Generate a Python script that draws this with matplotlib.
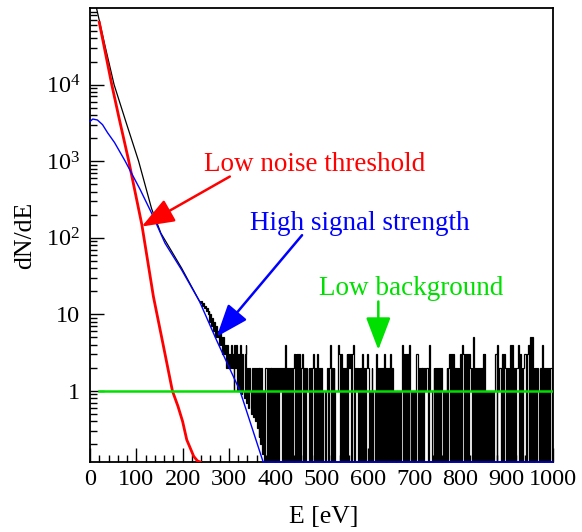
"""dN/dE spectrum with noise, signal and background components (ROOT-like style)."""

import matplotlib

matplotlib.use("Agg")
import matplotlib.pyplot as plt
import numpy as np
from matplotlib.ticker import FixedFormatter, FixedLocator, MultipleLocator, NullFormatter

plt.rcParams["font.family"] = ["Liberation Serif", "DejaVu Serif"]
plt.rcParams["mathtext.fontset"] = "custom"
plt.rcParams["mathtext.rm"] = "Liberation Serif"

# --- data ------------------------------------------------------------------
# smooth (high-statistics) part of the measured spectrum
DATA_E = [14, 33, 52, 78, 105, 133, 153, 198, 236]
DATA_Y = [1.0e5, 3.1e4, 1.0e4, 3.2e3, 1.0e3, 240, 115, 40, 15]

# measured spectrum, 2 eV bins from 236 eV to 380 eV
HIST_START = 236
BIN_WIDTH = 2
HIST_COUNTS_EDGE = [
    15, 14, 15, 13, 14, 12, 13, 11, 12, 10,
    11, 8, 10, 7, 9, 6, 8, 5, 7, 5,
    6, 4, 6, 4, 5, 3, 5, 3, 4, 2,
    4, 2, 3, 2, 4, 2, 3, 1, 4, 2,
    4, 1, 3, 1, 4, 0.9, 3, 1, 0.8, 3,
    4, 0.7, 2, 0.6, 2, 1, 0.5, 2, 0.45, 2,
    0.4, 2, 0.33, 2, 0.25, 2, 0.2, 2, 0.15, 1,
    0.12, 2,
]
# measured spectrum, 2 eV bins from 380 eV to 1000 eV (one digit = one bin)
BG_COUNT_ROWS = [
    "2020202020" "2020212020" "0402020202" "3030303023" "0202112020",
    "2302030202" "2011012024" "0202011143" "0302020303" "2303402120",
    "2020302023" "2010201103" "0202020230" "2020302010" "1010101403",
    "0303041010" "1033020202" "0212204110" "0202020202" "1010120230",
    "3030202020" "3043030303" "2120502020" "2020303010" "1010101330",
    "4122030320" "2020404020" "2240302023" "3034050502" "0202102040" "2022020220",
]

# noise model (red)
NOISE_E = [20, 47, 63, 83, 112, 137, 157, 178, 190, 200, 209, 224, 232, 238]
NOISE_Y = [6.5e4, 1.0e4, 3.6e3, 1.05e3, 148, 17, 4.3, 1.0, 0.63, 0.40, 0.23, 0.14, 0.122, 0.118]

# signal model (blue)
SIGNAL_E = [0, 6, 16, 27, 38, 53, 76, 108, 133, 162, 198, 236, 274, 324, 374, 1000]
SIGNAL_Y = [3.3e3, 3.55e3, 3.45e3, 3.0e3, 2.35e3, 1.75e3, 1.0e3, 430, 210, 85, 38, 15, 4.5, 1.0, 0.118, 0.118]

# flat background model (green)
BACKGROUND_E = [20, 1000]
BACKGROUND_Y = [1.0, 1.0]

Y_RANGE = (0.118, 1.0e5)
Y_MAJOR = [1, 10, 1e2, 1e3, 1e4]
Y_MAJOR_LABELS = ["1", "10", r"$\mathregular{10^{2}}$", r"$\mathregular{10^{3}}$", r"$\mathregular{10^{4}}$"]

RED = "#ff0000"
BLUE = "#0000ff"
GREEN = "#00e000"

tick_fontsize_pt = 17.5
title_fontsize_pt = 18.5
note_fontsize_pt = 19.5


def minor_log_ticks(lo_exp, hi_exp):
    return [m * 10.0 ** e for e in range(lo_exp, hi_exp) for m in range(2, 10)]


def arrow(ax, tail, tip, color):
    ax.annotate(
        "",
        xy=tip,
        xytext=tail,
        arrowprops=dict(
            arrowstyle="-|>,head_length=1.0,head_width=0.38",
            mutation_scale=20,
            color=color,
            lw=1.8,
            shrinkA=0,
            shrinkB=0,
        ),
        zorder=6,
    )


fig = plt.figure(figsize=(5.82, 5.32), dpi=100)
ax = fig.add_axes([90 / 582, 70 / 532, 463 / 582, 454 / 532])
ax.set_yscale("log")

counts = np.array(
    HIST_COUNTS_EDGE + [int(c) for c in "".join(BG_COUNT_ROWS)], dtype=float
)
counts[counts <= 0] = 1e-3  # empty bins drop through the bottom of the frame
edges = HIST_START + BIN_WIDTH * np.arange(len(counts) + 1)

ax.plot(DATA_E, DATA_Y, color="black", lw=0.9, zorder=2)
ax.stairs(counts, edges, color="black", lw=0.9, baseline=None, zorder=2)
ax.plot(NOISE_E, NOISE_Y, color=RED, lw=2.0, zorder=3)
ax.plot(SIGNAL_E, SIGNAL_Y, color=BLUE, lw=1.0, zorder=4, clip_on=False)
ax.plot(BACKGROUND_E, BACKGROUND_Y, color=GREEN, lw=1.8, zorder=5)

ax.set_xlim(0, 1000)
ax.set_ylim(*Y_RANGE)

ax.text(246, 736, "Low noise threshold", color=RED, fontsize=note_fontsize_pt,
        ha="left", va="baseline")
arrow(ax, (302, 630), (111.7, 140), RED)
ax.text(345.6, 124.5, "High signal strength", color=BLUE, fontsize=note_fontsize_pt,
        ha="left", va="baseline")
arrow(ax, (458, 108), (273.6, 5.1), BLUE)
ax.text(495, 18.0, "Low background", color=GREEN, fontsize=note_fontsize_pt,
        ha="left", va="baseline")
arrow(ax, (622.7, 14.7), (622.7, 3.44), GREEN)

ax.xaxis.set_major_locator(MultipleLocator(100))
ax.xaxis.set_minor_locator(MultipleLocator(20))
ax.yaxis.set_major_locator(FixedLocator(Y_MAJOR))
ax.yaxis.set_major_formatter(FixedFormatter(Y_MAJOR_LABELS))
ax.yaxis.set_minor_locator(FixedLocator(minor_log_ticks(-1, 5)))
ax.yaxis.set_minor_formatter(NullFormatter())

ax.tick_params(which="both", direction="in", top=False, right=False,
               labelsize=tick_fontsize_pt, width=1.0, color="black")
ax.tick_params(which="major", length=10)
ax.tick_params(which="minor", length=5)
ax.tick_params(axis="x", pad=5)
ax.tick_params(axis="y", pad=7)
for spine in ax.spines.values():
    spine.set_linewidth(1.3)

fig.text(324 / 582, 1 - 517 / 532, "E [eV]", fontsize=title_fontsize_pt,
         ha="center", va="center")
fig.text(25 / 582, 1 - 235 / 532, "dN/dE", fontsize=title_fontsize_pt,
         rotation=90, ha="center", va="center")

fig.savefig("out.png", dpi=100)
